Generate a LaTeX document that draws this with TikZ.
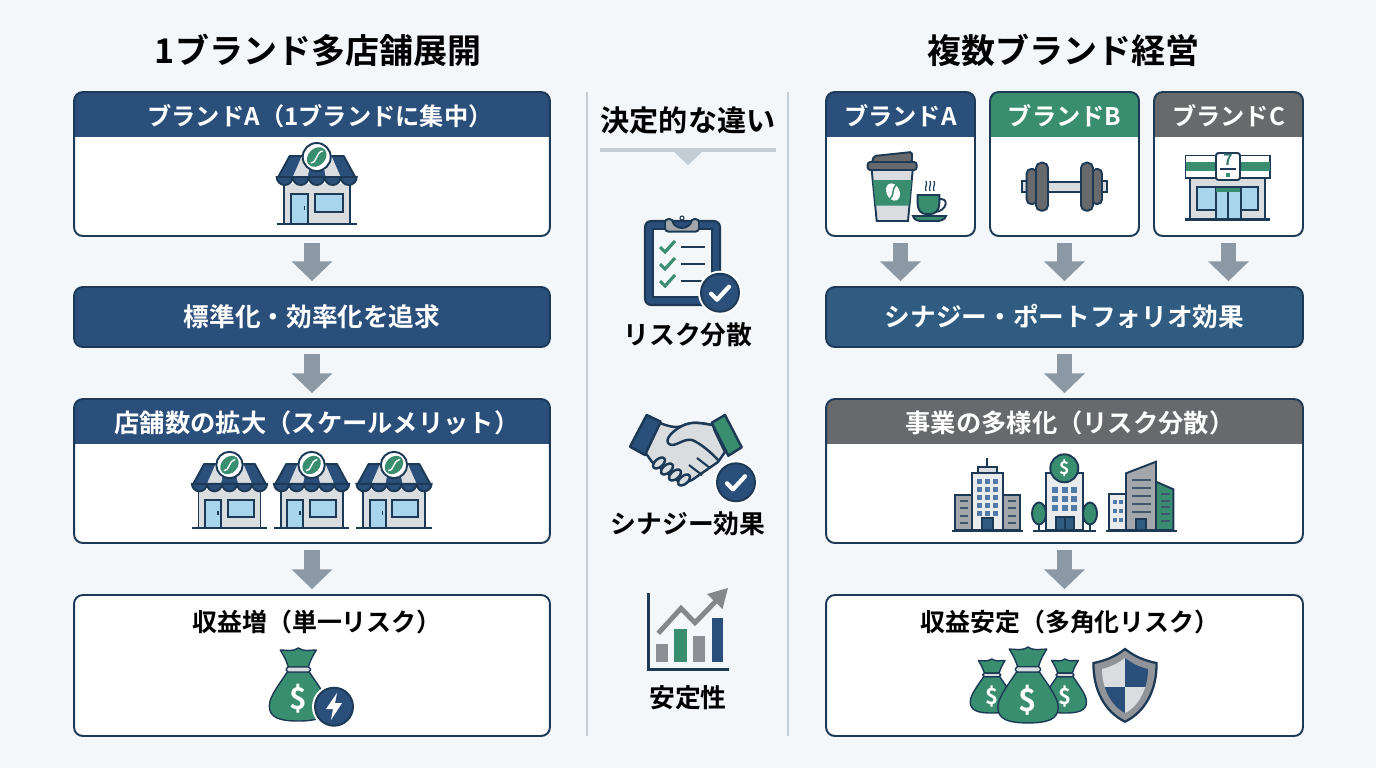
\documentclass[tikz,border=0pt]{standalone}
\usepackage{fontspec}
\setmainfont{Noto Sans CJK JP}[BoldFont={Noto Sans CJK JP Bold}]
\usetikzlibrary{arrows.meta,positioning}

\definecolor{pagebg}{HTML}{F4F7FA}
\definecolor{navy}{HTML}{2B4F7B}
\definecolor{linec}{HTML}{1C3A55}
\definecolor{leaf}{HTML}{3A8E70}
\definecolor{slate}{HTML}{67696C}
\definecolor{flowc}{HTML}{8C99A5}
\definecolor{rulec}{HTML}{C4CCD4}
\definecolor{lightg}{HTML}{DADDE0}
\definecolor{midg}{HTML}{A3A7AB}
\definecolor{sky}{HTML}{A8D4EC}
\definecolor{synblue}{HTML}{2F5C80}
\definecolor{winblue}{HTML}{4F7BAA}

\tikzset{
  panel/.style={draw=linec,line width=1.1pt,fill=white,rounded corners=5pt,inner sep=0pt},
  headed/.style={panel,path picture={\fill[#1,sharp corners] (path picture bounding box.north west) rectangle ([yshift=-.9cm]path picture bounding box.north east);}},
  bar/.style={panel,fill=#1,text=white,font=\bfseries\fontsize{14.6}{16}\selectfont},
  htext/.style={text=white,font=\bfseries\fontsize{13.8}{16}\selectfont,minimum height=.9cm,inner sep=0pt},
  htextb/.style={htext,font=\bfseries\fontsize{14.4}{16}\selectfont},
  btext/.style={text=black,font=\bfseries\fontsize{14.2}{16}\selectfont,inner sep=0pt},
  mtext/.style={text=black,font=\bfseries\fontsize{14.7}{16}\selectfont,inner sep=0pt},
  title/.style={text=black,font=\bfseries\fontsize{19.35}{22}\selectfont,inner sep=0pt},
  flow/.style={draw=flowc,line width=9pt,-{Triangle[width=22.7pt,length=11.3pt]},shorten <=3.4pt,shorten >=2.8pt},
  icon/.style={draw=linec,line width=1.1pt},
  % repeating icons, origin near the middle
  shop/.pic={
    \fill[lightg] (-33,-6) rectangle (33,34);
    \draw[icon] (-33,-6) -- (-33,34) (33,-6) -- (33,34);
    \draw[icon,fill=sky] (-26,4) rectangle (-9,34);
    \fill[linec] (-13,16) rectangle (-11.6,20);
    \draw[icon,fill=sky] (-2,4) rectangle (26,22);
    \draw[icon,line width=1.5pt] (-40,34) -- (40,34);
    \draw[icon,fill=navy,line join=round] (-27,-34) -- (27,-34) -- (39,-12) -- (-39,-12) -- cycle;
    \fill[lightg] (-15,-33.5) -- (-5,-33.5) -- (-9,-13) -- (-24,-13) -- cycle;
    \fill[lightg] (15,-33.5) -- (5,-33.5) -- (9,-13) -- (24,-13) -- cycle;
    \foreach \sx in {-32,-16,0,16,32}{
      \draw[icon,fill=navy] ({\sx+8},-13) arc[start angle=0,end angle=180,radius=8] -- cycle;
    }
    \draw[icon,fill=white] (0,-33) circle[radius=14];
    \fill[leaf,rotate around={45:(0,-33)}] (0,-33) ellipse[x radius=11,y radius=8.5];
    \draw[white,line width=.8pt] (-6,-27) .. controls (0,-26) and (-1,-38) .. (6,-39);
  },
  moneybag/.pic={
    \draw[icon,line width=.8pt,fill=leaf] (-11,-26) .. controls (-18,-15) and (-29,-2) .. (-29,8) .. controls (-29,20) and (-18,23) .. (0,23) .. controls (18,23) and (29,20) .. (29,8) .. controls (29,-2) and (18,-15) .. (11,-26) -- cycle;
    \draw[icon,line width=.8pt,fill=leaf,line join=round] (-10,-31) .. controls (-12,-38) and (-15,-43) .. (-18,-48) .. controls (-11,-48) and (-6,-46) .. (0,-50) .. controls (6,-46) and (11,-48) .. (18,-48) .. controls (15,-43) and (12,-38) .. (10,-31) -- cycle;
    \draw[icon,line width=.8pt,fill=lightg,rounded corners=1pt] (-12,-31) rectangle (12,-26);
    \node[text=white,font=\bfseries\fontsize{17}{17}\selectfont,transform shape,inner sep=0pt] (dollar) at (0,1) {\$};
  },
  okbadge/.pic={
    \fill[white] (0,0) circle[radius=22];
    \draw[icon,fill=navy] (0,0) circle[radius=19];
    \draw[white,line width=2.4pt,line cap=round,line join=round] (-9,1) -- (-3,7) -- (9,-6);
  },
}

\begin{document}
\begin{tikzpicture}[x=.02cm,y=-.02cm]
 \useasboundingbox[fill=pagebg] (0,0) rectangle (1376,768);

 \node[title] (tleft) at (318,50.5) {1ブランド多店舗展開};
 \node[title] (tright) at (1063,50.5) {複数ブランド経営};

 % left column
 \node[headed=navy,minimum width=9.52cm,minimum height=2.88cm] (a1) at (312,164) {};
 \node[htext,below=.04cm of a1.north,xshift=.16cm] (a1h) {ブランドA（1ブランドに集中）};
 \node[bar=navy,minimum width=9.52cm,minimum height=1.2cm] (a2) at (312,317) {標準化・効率化を追求};
 \node[headed=navy,minimum width=9.52cm,minimum height=2.88cm] (a3) at (312,471) {};
 \node[htextb,below=.04cm of a3.north,xshift=.1cm] (a3h) {店舗数の拡大（スケールメリット）};
 \node[panel,minimum width=9.52cm,minimum height=2.82cm] (a4) at (312,665.5) {};
 \node[btext] (a4h) at (317,622.5) {収益増（単一リスク）};

 \pic at (316.7,190) {shop};
 \foreach \sx in {229.5,311.6,394}{
   \pic[scale=.94] at (\sx,496) {shop};
 }
 \pic at (298.3,698) {moneybag};
 \fill[white] (334,706.7) circle[radius=22];
 \draw[icon,fill=navy] (334,706.7) circle[radius=19];
 \fill[white] (337,693) -- (326,709) -- (333,709) -- (331,720) -- (342,703) -- (335,703) -- cycle;

 \draw[flow] (a1.south) -- (a2.north);
 \draw[flow] (a2.south) -- (a3.north);
 \draw[flow] (a3.south) -- (a4.north);

 % middle column
 \draw[rulec,line width=1.4pt] (587,92) -- (587,736) (788,92) -- (788,736);
 \node[text=black,font=\bfseries\fontsize{16.6}{18}\selectfont,inner sep=0pt] (mid) at (688,120) {決定的な違い};
 \draw[rulec,line width=2pt] (600,150) -- (776,150);
 \fill[rulec] (673,151) -- (703,151) -- (688,165) -- cycle;

 % clipboard
 \draw[linec,line width=1.2pt,fill=navy,rounded corners=3.5pt] (645,221) rectangle (720,305);
 \draw[linec,line width=1pt,fill=pagebg] (652.7,229) rectangle (711.7,297);
 \draw[icon,fill=midg,rounded corners=2pt] (665,219) -- (673,219) arc[start angle=180,end angle=0,radius=9] -- (699,219) -- (699,231.7) -- (665,231.7) -- cycle;
 \draw[linec,line width=.6pt,fill=white] (682,218) circle[radius=2];
 \foreach \cy in {247,264,281}{
   \draw[leaf,line width=1.8pt] (660,\cy) -- (665,{\cy+5}) -- (675,{\cy-6});
   \draw[linec,line width=1.5pt] (681,\cy) -- (705,\cy);
 }
 \pic at (720,292.7) {okbadge};
 \node[mtext] (mid1) at (688,335) {リスク分散};

 % handshake
 \draw[icon,line width=1.4pt,fill=lightg,line join=round] (660,423) .. controls (670,427) and (677,428) .. (682,426) .. controls (692,421) and (702,423) .. (712,425) -- (725,452) -- (718,462) -- (692,480) -- (682,484) -- (652,462) -- (645,452) -- cycle;
 \draw[icon,line width=1.4pt,fill=lightg,line join=round] (712,425) .. controls (700,423) and (692,421) .. (682,426) .. controls (672,431) and (664,440) .. (669,444) .. controls (675,448) and (683,438) .. (692,440) .. controls (700,443) and (712,453) .. (719,461);
 \foreach \hx/\hy in {659/463,667/469,675/475,684/480}{
   \draw[icon,line width=1.4pt,fill=lightg,rotate around={40:(\hx,\hy)}] (\hx,\hy) ellipse[x radius=7,y radius=4];
 }
 \draw[icon,line width=1.2pt] (689,465) -- (702,475) (697,458) -- (710,468);
 \draw[icon,line width=1.4pt,fill=navy,line join=round] (646.7,415) -- (660.7,421.7) -- (645,455) -- (630,446.7) -- cycle;
 \draw[icon,line width=1.4pt,fill=leaf,line join=round] (725,415) -- (741.7,447.3) -- (728.3,455.7) -- (711.7,422.7) -- cycle;
 \pic at (736,482.3) {okbadge};
 \node[mtext] (mid2) at (688,524) {シナジー効果};

 % chart
 \fill[midg!60!slate] (656,644.3) rectangle (668.3,661.7);
 \fill[leaf] (674.3,629.3) rectangle (686.7,661.7);
 \fill[midg!60!slate] (692.7,636) rectangle (705,661.7);
 \fill[navy] (711.7,617.7) rectangle (723.3,661.7);
 \draw[slate!80,line width=2.8pt,line join=miter] (658.3,633.3) -- (681,608.3) -- (695,622.7) -- (718,599);
 \fill[slate!80] (728,588) -- (722.5,609) -- (707,594) -- cycle;
 \draw[linec,line width=1.9pt] (648.3,593.3) -- (648.3,669.3) -- (729.3,669.3);
 \node[mtext] (mid3) at (688,698) {安定性};

 % right column
 \node[headed=navy,minimum width=2.98cm,minimum height=2.88cm] (b1) at (900.5,164) {};
 \node[headed=leaf,minimum width=2.98cm,minimum height=2.88cm] (b2) at (1064.5,164) {};
 \node[headed=slate,minimum width=2.98cm,minimum height=2.88cm] (b3) at (1228.5,164) {};
 \node[htext,below=.04cm of b1.north] (b1h) {ブランドA};
 \node[htext,below=.04cm of b2.north] (b2h) {ブランドB};
 \node[htext,below=.04cm of b3.north] (b3h) {ブランドC};
 \node[bar=synblue,minimum width=9.54cm,minimum height=1.2cm] (c2) at (1064.5,317) {シナジー・ポートフォリオ効果};
 \node[headed=slate,minimum width=9.54cm,minimum height=2.88cm] (c3) at (1064.5,471) {};
 \node[htextb,below=.04cm of c3.north,xshift=.11cm] (c3h) {事業の多様化（リスク分散）};
 \node[panel,minimum width=9.54cm,minimum height=2.82cm] (c4) at (1064.5,665.5) {};
 \node[btext] (c4h) at (1070,622.5) {収益安定（多角化リスク）};

 \foreach \bn in {b1,b2,b3}{
   \draw[flow] (\bn.south) -- (\bn.south |- c2.north);
 }
 \draw[flow] (c2.south) -- (c3.north);
 \draw[flow] (c3.south) -- (c4.north);

 % coffee cup
 \draw[icon,fill=slate,rounded corners=1pt] (872,162) -- (874,156) -- (912,152) -- (912,162) -- cycle;
 \draw[icon,fill=lightg] (871.7,170) -- (876.7,221) -- (908,221) -- (912.7,170) -- cycle;
 \fill[leaf] (873,180) -- (875.5,205.7) -- (909,205.7) -- (911.7,180) -- cycle;
 \draw[icon,fill=slate,rounded corners=1.5pt] (867.7,162) rectangle (916.7,170);
 \fill[white,rotate around={25:(893,192)}] (893,192) ellipse[x radius=6.5,y radius=9];
 \draw[leaf,line width=.9pt] (889.5,199.5) .. controls (895,195) and (891,189) .. (896.5,184.5);
 \draw[icon,fill=none] (937,200) .. controls (950,195) and (948,212) .. (934,212);
 \draw[icon,fill=leaf] (917.7,195) -- (939.3,195) -- (939.3,204) .. controls (939.3,210) and (935,214) .. (931,214) -- (926,214) .. controls (921,214) and (917.7,210) .. (917.7,204) -- cycle;
 \draw[icon,fill=leaf] (913,216) -- (946,216) .. controls (945,220) and (940,221) .. (937,221) -- (922,221) .. controls (918,221) and (914,220) .. (913,216) -- cycle;
 \foreach \sx in {926,930,934}{
   \draw[linec,line width=.7pt] (\sx,191) .. controls ({\sx-2},187) and ({\sx+2},185) .. (\sx,181);
 }

 % dumbbell
 \draw[icon,fill=lightg] (1048,181.7) rectangle (1081,192);
 \draw[icon,fill=lightg] (1021.7,181) rectangle (1027,192);
 \draw[icon,fill=lightg] (1101.7,181) rectangle (1106.7,192);
 \draw[icon,fill=slate,rounded corners=2.5pt] (1026.7,169) rectangle (1037,204);
 \draw[icon,fill=slate,rounded corners=2.5pt] (1092,169) rectangle (1102,204);
 \draw[icon,fill=slate,rounded corners=3pt] (1036,162.7) rectangle (1048,210.7);
 \draw[icon,fill=slate,rounded corners=3pt] (1081,162.7) rectangle (1093,210.7);

 % convenience store
 \fill[lightg] (1190,178) rectangle (1265,218);
 \draw[icon] (1190,178) -- (1190,219) (1265,178) -- (1265,219);
 \draw[icon,fill=sky] (1197,187) rectangle (1215.7,210);
 \draw[icon,fill=sky] (1240.7,187) rectangle (1258.3,210);
 \draw[icon,fill=sky] (1215.7,187) rectangle (1240.7,219);
 \fill[leaf] (1216.2,187.5) rectangle (1240.2,192);
 \draw[icon] (1228.2,192) -- (1228.2,219);
 \draw[icon,line width=1.5pt] (1185,219.5) -- (1270,219.5);
 \draw[icon,fill=white] (1185.5,155.5) rectangle (1270,178);
 \fill[leaf] (1186,162) rectangle (1269.5,171);
 \draw[icon,fill=white,rounded corners=1.5pt] (1216,153) rectangle (1240,180);
 \node[text=leaf!70!linec,font=\bfseries\fontsize{9}{9}\selectfont,inner sep=0pt] (seven) at (1228,160) {7};
 \fill[linec] (1220,167.5) rectangle (1236,170);
 \fill[leaf] (1226,172.5) rectangle (1230,176.5);

 % buildings
 \draw[icon,fill=midg] (955,495) rectangle (971.7,530);
 \draw[icon,fill=midg] (1003.3,495) rectangle (1020,530);
 \draw[icon,fill=lightg!60!white] (971.7,473.3) rectangle (1003.3,530);
 \draw[icon,fill=lightg] (977.7,466.7) rectangle (996.7,473.3);
 \draw[icon] (987.3,458) -- (987.3,466.7);
 \foreach \wy in {479,487,495,503,511}{
   \foreach \wx in {977,985,993}{
     \fill[winblue] (\wx,\wy) rectangle ({\wx+5},{\wy+5});
   }
 }
 \foreach \wy in {500,507,515,522}{
   \fill[linec!85] (959.5,\wy) rectangle (967.5,{\wy+2});
   \fill[linec!85] (1007.5,\wy) rectangle (1015.5,{\wy+2});
 }
 \draw[icon,fill=synblue] (981.7,518.3) rectangle (993.3,530);
 \draw[icon,line width=1.5pt] (951.7,531) -- (1023.3,531);

 \draw[icon,fill=lightg!60!white] (1046,473.3) rectangle (1082.7,530);
 \foreach \wy in {487,496,505}{
   \foreach \wx in {1052,1061.5,1071}{
     \fill[winblue] (\wx,\wy) rectangle ({\wx+6},{\wy+6});
   }
 }
 \draw[icon,fill=synblue] (1056,517) rectangle (1074,530);
 \draw[icon] (1065,517) -- (1065,530);
 \foreach \tx in {1039,1090}{
   \draw[icon] (\tx,510) -- (\tx,530);
   \draw[icon,fill=leaf] (\tx,513.5) ellipse[x radius=7,y radius=11];
 }
 \draw[icon,fill=leaf] (1064.3,468.3) circle[radius=14];
 \node[text=white,font=\bfseries\fontsize{10}{10}\selectfont,inner sep=0pt] (coin) at (1064.3,468.3) {\$};
 \draw[icon,line width=1.5pt] (1033,531) -- (1095.7,531);

 \draw[icon,fill=lightg!60!white] (1109,494.3) rectangle (1126,530);
 \foreach \wy in {500,509,518}{
   \foreach \wx in {1113,1119}{
     \fill[winblue] (\wx,\wy) rectangle ({\wx+3.5},{\wy+4});
   }
 }
 \draw[icon,fill=midg] (1126,473.3) -- (1156,461.7) -- (1156,530) -- (1126,530) -- cycle;
 \foreach \wy in {479,487,495,503,511}{
   \fill[linec!85] (1132,\wy) rectangle (1151,{\wy+2.2});
 }
 \draw[icon,fill=synblue] (1136,519) rectangle (1146,530);
 \draw[icon,fill=leaf] (1156,481.7) -- (1173.3,489.3) -- (1173.3,530) -- (1156,530) -- cycle;
 \foreach \wy in {493,500,506,513,520}{
   \fill[linec!85] (1160.5,\wy) rectangle (1169.5,{\wy+1.8});
 }
 \draw[icon,line width=1.5pt] (1106,531) -- (1177,531);

 % bags and shield
 \pic[scale=.74] at (991.7,696) {moneybag};
 \pic[scale=.74] at (1065,696) {moneybag};
 \pic[scale=1.04] at (1028,699) {moneybag};
 \draw[icon,line width=1.3pt,fill=midg!70!slate] (1125,649) .. controls (1115,657) and (1104,661) .. (1093.5,663) .. controls (1093,690) and (1105,712) .. (1125,721.7) .. controls (1145,712) and (1157,690) .. (1156.5,663) .. controls (1146,661) and (1135,657) .. (1125,649) -- cycle;
 \begin{scope}
  \clip (1125,658) .. controls (1117,664) and (1110,667) .. (1102,669) .. controls (1102,688) and (1111,706) .. (1125,713) .. controls (1139,706) and (1148,688) .. (1148,669) .. controls (1140,667) and (1133,664) .. (1125,658) -- cycle;
  \fill[lightg] (1100,655) rectangle (1125,687);
  \fill[navy] (1125,655) rectangle (1150,687);
  \fill[navy] (1100,687) rectangle (1125,715);
  \fill[lightg] (1125,687) rectangle (1150,715);
 \end{scope}
\end{tikzpicture}
\end{document}
